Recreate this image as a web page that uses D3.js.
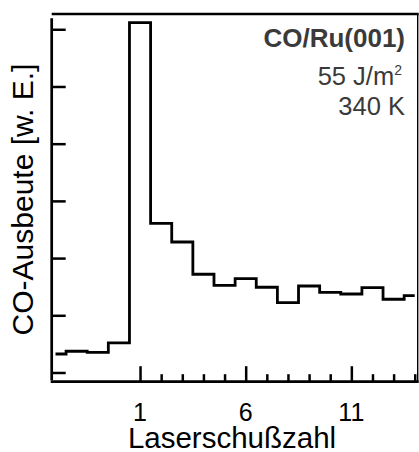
<!DOCTYPE html>
<html>
<head>
<meta charset="utf-8">
<script src="https://cdn.jsdelivr.net/npm/d3@7"></script>
<style>
  html, body { margin: 0; padding: 0; background: #fff; }
  svg { display: block; }
  text { font-family: "Liberation Sans", Arial, Helvetica, sans-serif; }
</style>
</head>
<body>
<script>
// ---- data ----
const shots = [-3, -2, -1, 0, 1, 2, 3, 4, 5, 6, 7, 8, 9, 10, 11, 12, 13, 14];
const yields = [0.323, 0.371, 0.353, 0.516, 6.115, 2.608, 2.281, 1.717, 1.524, 1.640,
                1.490, 1.220, 1.512, 1.402, 1.372, 1.483, 1.280, 1.343];
const xMajorTicks = [1, 6, 11];
const xMinorTicks = [1, 2, 3, 4, 5, 6, 7, 8, 9, 10, 11, 12, 13, 14];
const yTicks = [0, 1, 2, 3, 4, 5, 6];
const xLabel = "Laserschußzahl";
const yLabel = "CO-Ausbeute [w. E.]";
const titleLine = "CO/Ru(001)";
const fluenceLine = ["55 J/m", "2"];
const tempLine = "340 K";

// ---- layout ----
const W = 419, H = 452;
const mLeft = 51.7, mRight = 417.7, mTop = 14, mBottom = 381.7;

const svg = d3.select("body").append("svg").attr("width", W).attr("height", H);

const x = d3.scaleLinear().domain([-3.18, 14.14]).range([mLeft, mRight]);
const y = d3.scaleLinear().domain([-0.161, 6.267]).range([mBottom, mTop]);

// frame: top line and thin right border
svg.append("line").attr("x1", mLeft).attr("x2", mRight + 1).attr("y1", mTop).attr("y2", mTop)
  .attr("stroke", "#000").attr("stroke-width", 2.5);
svg.append("line").attr("x1", mRight).attr("x2", mRight).attr("y1", mTop).attr("y2", mBottom)
  .attr("stroke", "#000").attr("stroke-width", 1.4);

// left axis (inward ticks, no labels)
const yAxis = d3.axisRight(y).tickValues(yTicks).tickSize(14).tickFormat("");
const gy = svg.append("g").attr("transform", `translate(${mLeft},0)`).call(yAxis);
gy.select(".domain").remove();
gy.selectAll(".tick line").attr("stroke", "#000").attr("stroke-width", 2.5);
svg.append("line").attr("x1", mLeft).attr("x2", mLeft).attr("y1", mTop + 4.3).attr("y2", mBottom - 1.5)
  .attr("stroke", "#000").attr("stroke-width", 2.7);

// bottom axis (ticks pointing up)
const gxMinor = svg.append("g").attr("transform", `translate(0,${mBottom})`)
  .call(d3.axisTop(x).tickValues(xMinorTicks.filter(d => !xMajorTicks.includes(d))).tickSize(7.5).tickFormat(""));
gxMinor.select(".domain").remove();
gxMinor.selectAll(".tick line").attr("stroke", "#000").attr("stroke-width", 2.5);

const gxMajor = svg.append("g").attr("transform", `translate(0,${mBottom})`)
  .call(d3.axisTop(x).tickValues(xMajorTicks).tickSize(15.5).tickFormat(""));
gxMajor.select(".domain").remove();
gxMajor.selectAll(".tick line").attr("stroke", "#000").attr("stroke-width", 2.5);

svg.append("line").attr("x1", mLeft - 1).attr("x2", mRight + 1).attr("y1", mBottom).attr("y2", mBottom)
  .attr("stroke", "#000").attr("stroke-width", 2.7);

// tick labels
svg.append("g").selectAll("text").data(xMajorTicks).join("text")
  .attr("x", d => x(d))
  .attr("y", 421)
  .attr("text-anchor", "middle")
  .attr("font-size", 25)
  .attr("fill", "#000")
  .text(d => d);

// step histogram
const line = d3.line()
  .x((d, i) => x(shots[i]))
  .y(d => y(d))
  .curve(d3.curveStep);
svg.append("path")
  .datum(yields)
  .attr("d", line)
  .attr("fill", "none")
  .attr("stroke", "#000")
  .attr("stroke-width", 2.8)
  .attr("stroke-linejoin", "miter");

// axis labels
svg.append("text")
  .attr("x", 232).attr("y", 448)
  .attr("text-anchor", "middle")
  .attr("font-size", 29.5)
  .attr("fill", "#000")
  .text(xLabel);

svg.append("text")
  .attr("transform", "translate(33,199.5) rotate(-90)")
  .attr("text-anchor", "middle")
  .attr("font-size", 30)
  .attr("fill", "#000")
  .text(yLabel);

// annotation
const ann = svg.append("g").attr("fill", "#3a3a3a").attr("text-anchor", "end");
ann.append("text").attr("x", 405).attr("y", 46.5)
  .attr("font-size", 26).attr("font-weight", "bold").text(titleLine);
const fl = ann.append("text").attr("x", 402).attr("y", 85).attr("font-size", 25.5);
fl.append("tspan").text(fluenceLine[0]);
fl.append("tspan").attr("font-size", 14).attr("dy", -10).text(fluenceLine[1]);
ann.append("text").attr("x", 405).attr("y", 115)
  .attr("font-size", 25.5).text(tempLine);
</script>
</body>
</html>
